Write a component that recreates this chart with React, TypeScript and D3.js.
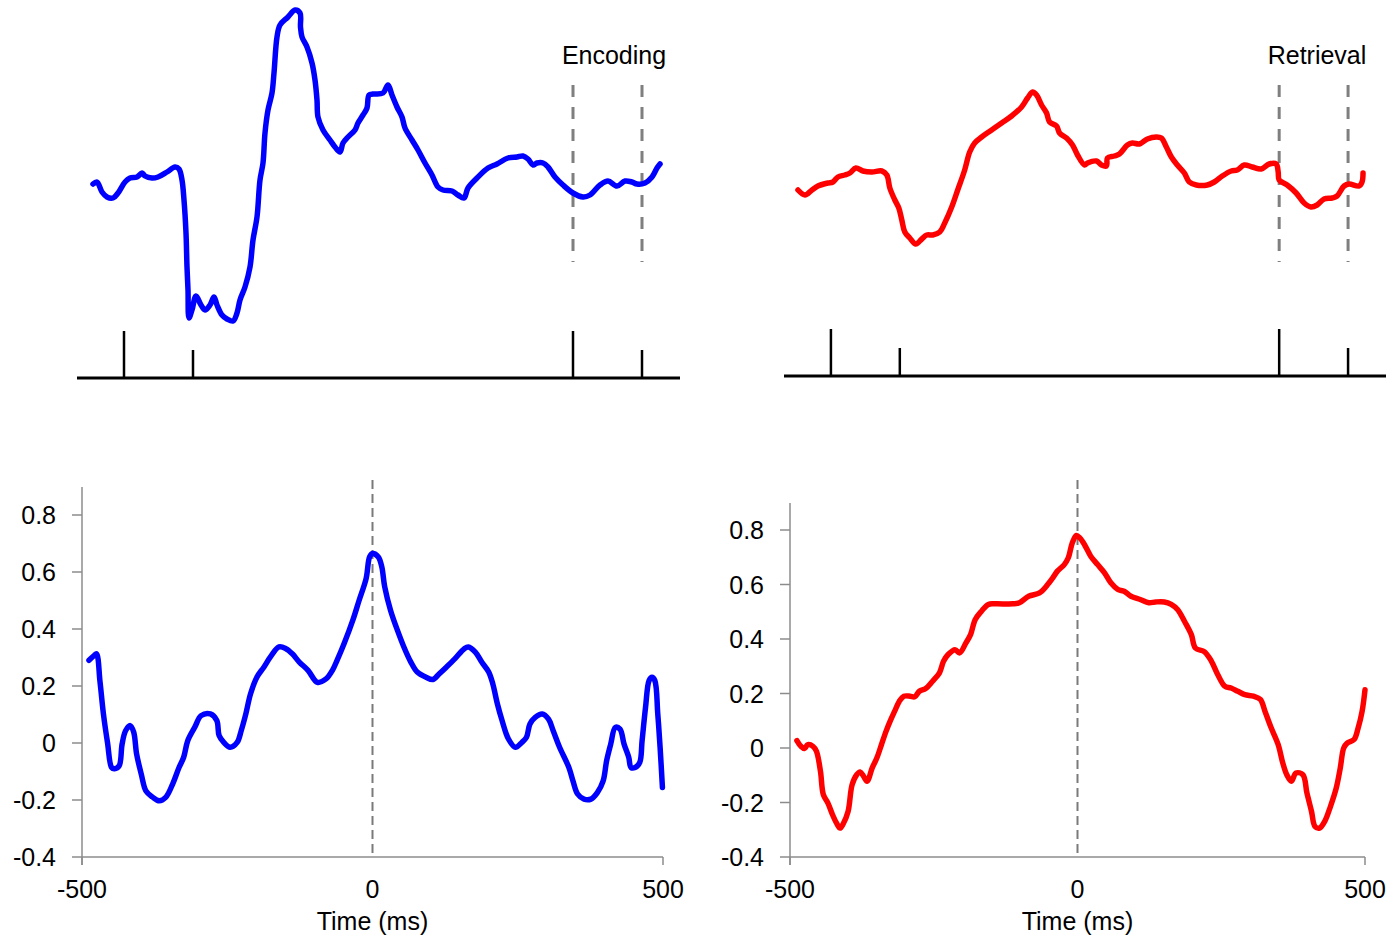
import { useEffect, useRef } from 'react';
import * as d3 from 'd3';

// top row: raw traces (time index, arbitrary amplitude)
const encodingTrace: [number, number][] = [
  [16, 0.01], [20, 0.03], [25, -0.07], [30, -0.12], [36, -0.13], [41, -0.08], [48, 0.03], [53, 0.07],
  [60, 0.08], [65, 0.12], [68, 0.09], [75, 0.07], [81, 0.08], [90, 0.13], [98, 0.18], [102, 0.16],
  [105, 0.05], [107, -0.15], [109, -0.48], [110, -0.82], [111, -1.05], [112, -1.33], [115, -1.25],
  [119, -1.11], [124, -1.2], [128, -1.25], [133, -1.2], [137, -1.12], [140, -1.2], [145, -1.3],
  [150, -1.34], [156, -1.36], [160, -1.28], [163, -1.15], [168, -1.02], [173, -0.82], [176, -0.55],
  [180, -0.32], [183, 0.05], [186, 0.22], [188, 0.52], [191, 0.75], [195, 0.92], [197, 1.12],
  [200, 1.48], [203, 1.6], [211, 1.68], [218, 1.75], [223, 1.72], [223.5, 1.58], [225, 1.48],
  [230, 1.38], [235, 1.22], [238, 1.05], [240, 0.85], [241, 0.68], [246, 0.55], [253, 0.45],
  [258, 0.38], [263, 0.33], [266, 0.42], [271, 0.48], [278, 0.55], [281, 0.62], [286, 0.7],
  [290, 0.77], [292, 0.9], [296, 0.91], [306, 0.92], [311, 1.0], [315, 0.9], [320, 0.78],
  [325, 0.68], [328, 0.57], [335, 0.45], [341, 0.35], [348, 0.22], [355, 0.1], [361, -0.02],
  [366, -0.05], [375, -0.06], [381, -0.1], [387, -0.13], [391, -0.03], [400, 0.07], [411, 0.17],
  [420, 0.21], [431, 0.27], [440, 0.28], [446, 0.29], [451, 0.26], [456, 0.2], [460, 0.22],
  [466, 0.22], [471, 0.18], [478, 0.08], [486, 0], [496, -0.08], [506, -0.12], [513, -0.1],
  [523, 0], [531, 0.04], [540, -0.01], [548, 0.04], [555, 0.03], [560, 0.01], [568, 0.02],
  [575, 0.08], [580, 0.17], [583, 0.21],
];

const retrievalTrace: [number, number][] = [
  [14, -0.05], [21, -0.1], [28, -0.05], [34, -0.01], [44, 0.02], [49, 0.03], [54, 0.08], [61, 0.1],
  [66, 0.12], [72, 0.17], [79, 0.14], [88, 0.13], [98, 0.14], [103, 0.1], [106, -0.03], [111, -0.15],
  [115, -0.23], [118, -0.35], [121, -0.47], [126, -0.53], [132, -0.59], [138, -0.54], [143, -0.5],
  [149, -0.5], [156, -0.47], [161, -0.38], [168, -0.22], [174, -0.05], [181, 0.15], [186, 0.33],
  [191, 0.42], [198, 0.48], [208, 0.55], [218, 0.62], [228, 0.69], [238, 0.78], [244, 0.87],
  [249, 0.93], [253, 0.9], [258, 0.8], [263, 0.72], [266, 0.63], [273, 0.59], [276, 0.52],
  [283, 0.47], [289, 0.4], [294, 0.3], [301, 0.2], [304, 0.22], [313, 0.24], [318, 0.2],
  [323, 0.19], [324, 0.27], [331, 0.29], [336, 0.31], [344, 0.4], [349, 0.42], [356, 0.41],
  [364, 0.46], [373, 0.48], [378, 0.47], [383, 0.38], [388, 0.28], [394, 0.2], [401, 0.12],
  [406, 0.03], [413, 0], [424, 0], [431, 0.03], [439, 0.09], [448, 0.14], [454, 0.15], [461, 0.2],
  [469, 0.18], [478, 0.16], [486, 0.21], [493, 0.21], [495, 0.13], [496, 0.05], [504, 0],
  [513, -0.08], [521, -0.18], [528, -0.22], [534, -0.2], [541, -0.14], [549, -0.13], [554, -0.11],
  [561, -0.01], [566, 0.01], [576, -0.01], [579, 0.03], [580, 0.12],
];

// event markers on the top time lines (tall = true)
const eventTimes = [47, 116, 496, 565];
const eventTall = [true, false, true, false];
const windowEvents = [496, 565];

// bottom row: correlation vs lag (ms)
const encodingCorr: [number, number][] = [
  [-488, 0.29], [-479, 0.307], [-475, 0.313], [-469, 0.215], [-463, 0.1], [-456, 0.0], [-449, -0.086],
  [-444, -0.09], [-436, -0.08], [-431, -0.004], [-425, 0.043], [-417, 0.061], [-411, 0.038],
  [-406, -0.039], [-398, -0.109], [-390, -0.168], [-379, -0.189], [-367, -0.203], [-356, -0.191],
  [-344, -0.144], [-333, -0.086], [-325, -0.05], [-318, 0.008], [-306, 0.055], [-295, 0.096],
  [-279, 0.102], [-268, 0.079], [-264, 0.026], [-256, 0.002], [-245, -0.015], [-233, 0.002],
  [-226, 0.043], [-218, 0.102], [-210, 0.172], [-199, 0.231], [-187, 0.266], [-176, 0.301],
  [-161, 0.337], [-149, 0.331], [-138, 0.313], [-126, 0.284], [-111, 0.255], [-95, 0.213],
  [-80, 0.225], [-69, 0.255], [-61, 0.29], [-49, 0.348], [-34, 0.43], [-23, 0.501], [-11, 0.577],
  [-5, 0.653], [0, 0.665], [10, 0.653], [16, 0.618], [21, 0.548], [31, 0.466], [43, 0.395],
  [54, 0.337], [66, 0.284], [77, 0.249], [92, 0.231], [104, 0.223], [115, 0.243], [127, 0.266],
  [142, 0.296], [158, 0.331], [165, 0.337], [177, 0.319], [188, 0.284], [200, 0.249], [207, 0.208],
  [215, 0.137], [223, 0.079], [234, 0.014], [246, -0.015], [257, 0.002], [265, 0.02], [271, 0.067],
  [280, 0.09], [292, 0.102], [303, 0.084], [311, 0.043], [322, -0.015], [338, -0.086], [345, -0.133],
  [353, -0.179], [364, -0.197], [376, -0.197], [387, -0.174], [397, -0.133], [403, -0.062],
  [410, -0.004], [418, 0.055], [426, 0.049], [433, -0.004], [441, -0.05], [445, -0.086],
  [452, -0.086], [460, -0.068], [464, 0.008], [470, 0.126], [476, 0.219], [481, 0.231],
  [486, 0.219], [491, 0.102], [495, -0.015], [499, -0.156],
];

const retrievalCorr: [number, number][] = [
  [-488, 0.027], [-481, 0.006], [-475, -0.002], [-469, 0.012], [-460, 0.006], [-454, -0.012],
  [-447, -0.086], [-442, -0.171], [-434, -0.202], [-426, -0.245], [-419, -0.276], [-413, -0.294],
  [-407, -0.276], [-399, -0.233], [-392, -0.135], [-384, -0.098], [-378, -0.088], [-372, -0.104],
  [-366, -0.122], [-357, -0.073], [-349, -0.037], [-341, 0.012], [-333, 0.061], [-326, 0.098],
  [-318, 0.135], [-310, 0.171], [-302, 0.19], [-291, 0.19], [-283, 0.188], [-275, 0.208],
  [-264, 0.218], [-252, 0.245], [-240, 0.276], [-233, 0.318], [-225, 0.343], [-213, 0.361],
  [-205, 0.349], [-194, 0.386], [-186, 0.416], [-178, 0.471], [-167, 0.502], [-155, 0.527],
  [-143, 0.529], [-112, 0.529], [-101, 0.533], [-85, 0.557], [-66, 0.569], [-54, 0.594],
  [-43, 0.624], [-35, 0.649], [-23, 0.673], [-16, 0.698], [-9, 0.753], [-2, 0.78], [4, 0.771],
  [12, 0.747], [23, 0.704], [35, 0.673], [47, 0.643], [58, 0.606], [70, 0.582], [81, 0.575],
  [93, 0.557], [109, 0.545], [124, 0.533], [136, 0.536], [151, 0.536], [163, 0.527], [174, 0.508],
  [186, 0.465], [198, 0.416], [205, 0.367], [221, 0.353], [233, 0.318], [244, 0.269], [256, 0.227],
  [267, 0.22], [279, 0.208], [291, 0.196], [306, 0.19], [318, 0.178], [326, 0.135], [337, 0.073],
  [349, 0.012], [357, -0.055], [364, -0.098], [372, -0.122], [380, -0.092], [392, -0.098],
  [399, -0.165], [407, -0.233], [413, -0.288], [421, -0.294], [430, -0.269], [440, -0.214],
  [450, -0.147], [457, -0.073], [463, 0], [469, 0.018], [481, 0.031], [488, 0.073], [495, 0.135],
  [500, 0.214],
];

const yTicks = [0.8, 0.6, 0.4, 0.2, 0, -0.2, -0.4];
const xTicks = [-500, 0, 500];
const xLabel = 'Time (ms)';

const FONT = '"Liberation Sans", Arial, sans-serif';

const App = () => {
  const svgRef = useRef<SVGSVGElement>(null);

  useEffect(() => {
    if (!svgRef.current) return;
    const svg = d3.select(svgRef.current);
    svg.selectAll('*').remove();

    const line = d3.line<[number, number]>().curve(d3.curveCatmullRom.alpha(0.5));

    // ---- top panels ----
    const topPanels = [
      { data: encodingTrace, color: '#0000ff', x0: 77, x1: 680, axisY: 378, label: 'Encoding', labelX: 614 },
      { data: retrievalTrace, color: '#ff0000', x0: 784, x1: 1386, axisY: 376, label: 'Retrieval', labelX: 1317 },
    ];

    topPanels.forEach(p => {
      const x = d3.scaleLinear().domain([0, 603]).range([p.x0, p.x1]);
      const y = d3.scaleLinear().domain([-2, 2]).range([385, -15]);
      const g = svg.append('g');

      windowEvents.forEach(t => {
        g.append('line')
          .attr('x1', x(t)).attr('x2', x(t))
          .attr('y1', 85).attr('y2', 262)
          .style('stroke', '#7f7f7f')
          .style('stroke-width', 3)
          .style('stroke-dasharray', '12,10');
      });

      g.append('path')
        .attr('d', line.x(d => x(d[0])).y(d => y(d[1]))(p.data))
        .style('fill', 'none')
        .style('stroke', p.color)
        .style('stroke-width', 5.5)
        .style('stroke-linejoin', 'round')
        .style('stroke-linecap', 'round');

      g.append('line')
        .attr('x1', p.x0).attr('x2', p.x1)
        .attr('y1', p.axisY).attr('y2', p.axisY)
        .style('stroke', '#000')
        .style('stroke-width', 3);

      eventTimes.forEach((t, i) => {
        g.append('line')
          .attr('x1', x(t)).attr('x2', x(t))
          .attr('y1', p.axisY - (eventTall[i] ? 47 : 28)).attr('y2', p.axisY)
          .style('stroke', '#000')
          .style('stroke-width', 2.5);
      });

      g.append('text')
        .attr('x', p.labelX).attr('y', 64)
        .attr('text-anchor', 'middle')
        .style('font-family', FONT)
        .style('font-size', '25px')
        .style('fill', '#000')
        .text(p.label);
    });

    // ---- bottom panels ----
    const bottomPanels = [
      { data: encodingCorr, color: '#0000ff', x0: 82, x1: 663, yTop: 515, yBot: 857, axisTop: 487 },
      { data: retrievalCorr, color: '#ff0000', x0: 790, x1: 1365, yTop: 530, yBot: 857, axisTop: 503 },
    ];

    bottomPanels.forEach(p => {
      const x = d3.scaleLinear().domain([-500, 500]).range([p.x0, p.x1]);
      const y = d3.scaleLinear().domain([-0.4, 0.8]).range([p.yBot, p.yTop]);
      const g = svg.append('g');
      const axisColor = '#8c8c8c';

      // y axis
      g.append('line')
        .attr('x1', p.x0).attr('x2', p.x0)
        .attr('y1', p.axisTop).attr('y2', p.yBot + 8)
        .style('stroke', axisColor).style('stroke-width', 1.5);
      yTicks.forEach(v => {
        g.append('line')
          .attr('x1', p.x0 - 10).attr('x2', p.x0)
          .attr('y1', y(v)).attr('y2', y(v))
          .style('stroke', axisColor).style('stroke-width', 1.5);
        g.append('text')
          .attr('x', p.x0 - 26).attr('y', y(v))
          .attr('dy', '0.36em')
          .attr('text-anchor', 'end')
          .style('font-family', FONT)
          .style('font-size', '25px')
          .style('fill', '#000')
          .text(String(Math.round(v * 10) / 10));
      });

      // x axis
      g.append('line')
        .attr('x1', p.x0).attr('x2', p.x1)
        .attr('y1', p.yBot).attr('y2', p.yBot)
        .style('stroke', axisColor).style('stroke-width', 1.5);
      xTicks.forEach(t => {
        if (t !== 0) {
          g.append('line')
            .attr('x1', x(t)).attr('x2', x(t))
            .attr('y1', p.yBot).attr('y2', p.yBot + 8)
            .style('stroke', axisColor).style('stroke-width', 1.5);
        }
        g.append('text')
          .attr('x', x(t)).attr('y', 898)
          .attr('text-anchor', 'middle')
          .style('font-family', FONT)
          .style('font-size', '25px')
          .style('fill', '#000')
          .text(String(t));
      });
      g.append('text')
        .attr('x', x(0)).attr('y', 930)
        .attr('text-anchor', 'middle')
        .style('font-family', FONT)
        .style('font-size', '25px')
        .style('fill', '#000')
        .text(xLabel);

      // zero-lag reference
      g.append('line')
        .attr('x1', x(0)).attr('x2', x(0))
        .attr('y1', 480).attr('y2', p.yBot)
        .style('stroke', '#7a7a7a')
        .style('stroke-width', 2)
        .style('stroke-dasharray', '9,5');

      g.append('path')
        .attr('d', line.x(d => x(d[0])).y(d => y(d[1]))(p.data))
        .style('fill', 'none')
        .style('stroke', p.color)
        .style('stroke-width', 5.5)
        .style('stroke-linejoin', 'round')
        .style('stroke-linecap', 'round');
    });
  }, []);

  return (
    <svg
      ref={svgRef}
      width={1400}
      height={938}
      style={{ position: 'absolute', left: 0, top: 0, background: '#fff' }}
    />
  );
};

export default App;
